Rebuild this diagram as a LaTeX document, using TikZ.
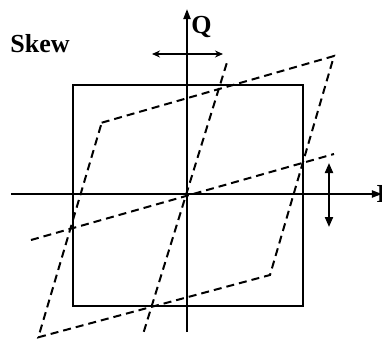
\documentclass[tikz,border=0pt]{standalone}
\usepackage{fontspec}
\setmainfont{Liberation Serif}
\usetikzlibrary{arrows.meta}
\tikzset{
    % Line styles
    axisline/.style={
        line width=1pt,
        -{Triangle[length=5pt,width=3.5pt]}
    },
    boxline/.style={
        line width=1pt
    },
    skewline/.style={
        line width=1pt,
        dash pattern=on 4pt off 2.5pt
    },
    movearrow/.style={
        {Stealth[length=4pt,width=3.5pt]}-{Stealth[length=4pt,width=3.5pt]}
    },
    bigmovearrow/.style={
        line width=1pt,
        {Triangle[length=5pt,width=4pt]}-{Triangle[length=5pt,width=4pt]}
    },
    % Text styles
    axislabel/.style={
        inner sep=0pt,
        font=\fontsize{13}{15}\selectfont\bfseries
    }
}

\begin{document}
\begin{tikzpicture}[x=0.5pt,y=0.5pt]
            \useasboundingbox (-187,-145) rectangle (195,194);

            % Axes
            \coordinate (ileft) at (-176,0);
            \coordinate (iright) at (195,0);
            \coordinate (qbot) at (0,-138);
            \coordinate (qtop) at (0,185);
            \draw[axisline] (ileft) -- (iright);
            \draw[axisline] (qbot) -- (qtop);
            \node[axislabel,anchor=base west] (qlab) at (4,161) {Q};
            \node[axislabel,anchor=base west] (ilab) at (189,-8) {I};

            % Title
            \node[axislabel,anchor=base west] (skewlab) at (-177,142) {Skew};

            % Square
            \draw[boxline] (-114.3,-112) rectangle (115.7,109);

            % Skewed square
            \draw[skewline] (-85.3,71.3) -- (147,138) -- (83,-81) -- (-148.7,-143.3) -- cycle;

            % Skewed axes
            \draw[skewline] (39.7,130.7) -- (-43.7,-139.3);
            \draw[skewline] (-156,-46) -- (147,40);

            % Skew directions
            \coordinate (hleft) at (-35,140);
            \coordinate (hright) at (36,140);
            \coordinate (vtop) at (142,31);
            \coordinate (vbot) at (142,-33);
            \draw[movearrow,line width=0.6pt] (hleft) -- (hright);
            \draw[bigmovearrow] (vtop) -- (vbot);
\end{tikzpicture}
\end{document}
